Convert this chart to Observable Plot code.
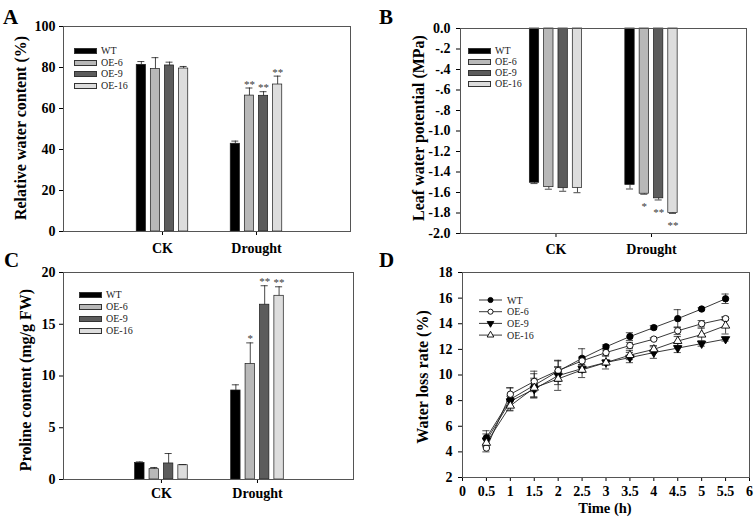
<!DOCTYPE html>
<html><head><meta charset="utf-8">
<script src="https://cdn.jsdelivr.net/npm/d3@7"></script>
<script src="https://cdn.jsdelivr.net/npm/@observablehq/plot@0.6"></script>
<style>
html,body{margin:0;padding:0;background:#fff;}
#wrap{position:relative;width:755px;height:520px;overflow:hidden;font-family:'Liberation Serif','Times New Roman',serif;background:#fff;}
.panel{position:absolute;}
.letter{position:absolute;font-weight:bold;font-size:21px;line-height:1;color:#000;}
.ytitle{position:absolute;font-weight:bold;font-size:16px;white-space:nowrap;transform:translate(-50%,-50%) rotate(-90deg);color:#000;}
.xtitle{position:absolute;font-weight:bold;font-size:14.5px;white-space:nowrap;transform:translate(-50%,-50%);color:#000;}
.leg{position:absolute;font-size:10px;color:#222;white-space:nowrap;line-height:1;transform:translateY(-50%);}
.sw{position:absolute;box-sizing:border-box;border:1px solid #333;}
</style></head><body><div id="wrap"></div>
<script>
// ---------- data ----------
const conditions = ["CK", "Drought"];
const lines = ["WT", "OE-6", "OE-9", "OE-16"];
const barFills = ["#000000", "#b8b8b8", "#5c5c5c", "#dddddd"];

// A: relative water content (%)
const rwcCK = [81.3, 79.3, 81.0, 79.5];
const rwcCKErr = [1.6, 5.5, 1.6, 1.0];
const rwcCKSig = ["", "", "", ""];
const rwcDrought = [42.8, 66.3, 66.2, 71.7];
const rwcDroughtErr = [1.3, 3.7, 2.0, 4.1];
const rwcDroughtSig = ["", "**", "**", "**"];
const rwcTicks = [0, 20, 40, 60, 80, 100];

// B: leaf water potential (MPa)
const lwpCK = [-1.505, -1.548, -1.558, -1.557];
const lwpCKErr = [0.008, 0.02, 0.03, 0.045];
const lwpCKSig = ["", "", "", ""];
const lwpDrought = [-1.526, -1.612, -1.657, -1.80];
const lwpDroughtErr = [0.04, 0.005, 0.016, 0.004];
const lwpDroughtSig = ["", "*", "**", "**"];
const lwpTicks = [0, -0.2, -0.4, -0.6, -0.8, -1.0, -1.2, -1.4, -1.6, -1.8, -2.0];
const lwpTickLabels = ["0.0", "-.2", "-.4", "-.6", "-.8", "-1.0", "-1.2", "-1.4", "-1.6", "-1.8", "-2.0"];

// C: proline content (mg/g FW)
const proCK = [1.6, 1.0, 1.55, 1.38];
const proCKErr = [0.1, 0.16, 0.96, 0.06];
const proCKSig = ["", "", "", ""];
const proDrought = [8.6, 11.17, 16.89, 17.75];
const proDroughtErr = [0.55, 2.03, 1.83, 0.87];
const proDroughtSig = ["", "*", "**", "**"];
const proTicks = [0, 5, 10, 15, 20];

// D: water loss rate (%)
const hours = [0.5, 1, 1.5, 2, 2.5, 3, 3.5, 4, 4.5, 5, 5.5];
const wlWT = [5.1, 8.1, 9.2, 10.3, 11.3, 12.2, 13.0, 13.7, 14.4, 15.15, 15.95];
const wlWTErr = [0.55, 0.9, 0.9, 0.8, 0.75, 0.15, 0.3, 0.15, 0.7, 0.1, 0.37];
const wlOE6 = [4.3, 8.5, 9.5, 10.35, 11.1, 11.75, 12.3, 12.8, 13.45, 14.0, 14.4];
const wlOE6Err = [0.3, 0.5, 0.8, 0.8, 0.3, 0.2, 0.25, 0.1, 0.3, 0.25, 0.15];
const wlOE9 = [4.9, 7.95, 8.9, 9.95, 10.5, 10.98, 11.36, 11.75, 12.1, 12.45, 12.8];
const wlOE9Err = [0.5, 0.4, 0.7, 0.7, 0.3, 0.2, 0.4, 0.45, 0.35, 0.2, 0.15];
const wlOE16 = [4.7, 7.6, 9.0, 9.7, 10.4, 10.97, 11.55, 12.0, 12.65, 13.15, 13.85];
const wlOE16Err = [0.3, 0.35, 0.75, 0.9, 0.6, 0.5, 0.35, 0.3, 0.35, 0.5, 0.65];
const timeTicks = [0, 0.5, 1, 1.5, 2, 2.5, 3, 3.5, 4, 4.5, 5, 5.5, 6];
const wlrTicks = [2, 4, 6, 8, 10, 12, 14, 16, 18];

// ---------- layout helpers ----------
const wrap = document.getElementById("wrap");
const FONT = "'Liberation Serif','Times New Roman',serif";
const BAR_STEP = 0.15, BAR_W = 0.098, CAP = 0.037;

function place(node, left, top) {
  const d = document.createElement("div");
  d.className = "panel";
  d.style.left = left + "px"; d.style.top = top + "px";
  d.appendChild(node);
  wrap.appendChild(d);
}
function addText(cls, text, left, top, extra) {
  const d = document.createElement("div");
  d.className = cls; d.textContent = text;
  d.style.left = left + "px"; d.style.top = top + "px";
  if (extra) Object.assign(d.style, extra);
  wrap.appendChild(d);
}

function barPanel(cfg) {
  const groups = cfg.groups;
  const rows = [];
  groups.forEach((g, gi) => g.values.forEach((v, si) => {
    const e = g.errors[si];
    rows.push({cond: conditions[gi], line: lines[si], v, e,
      pos: gi + (si - 1.5) * BAR_STEP,
      end: cfg.down ? v - e : v + e, sig: g.sig[si]});
  }));
  return Plot.plot({
    width: cfg.width, height: cfg.height,
    marginLeft: cfg.m[0], marginRight: cfg.m[1], marginTop: cfg.m[2], marginBottom: cfg.m[3],
    style: {fontFamily: FONT, fontSize: "14px", fontWeight: "bold", background: "white", color: "#000"},
    x: {type: "linear", domain: cfg.xDomain, ticks: [0, 1], tickFormat: i => conditions[i], tickSize: 4, tickPadding: cfg.xPad, label: null},
    y: {domain: cfg.yDomain, ticks: cfg.yTicks, tickFormat: cfg.yFormat, tickSize: 4, tickPadding: cfg.yPad, label: null},
    color: {domain: lines, range: barFills},
    marks: [
      Plot.rect(rows, {x1: d => d.pos - BAR_W / 2, x2: d => d.pos + BAR_W / 2, y1: 0, y2: "v", fill: "line", stroke: "#1a1a1a", strokeWidth: 0.7}),
      Plot.ruleX(rows, {x: "pos", y1: "v", y2: "end", stroke: "#1a1a1a", strokeWidth: 0.8}),
      Plot.ruleY(rows, {y: "end", x1: d => d.pos - CAP, x2: d => d.pos + CAP, stroke: "#1a1a1a", strokeWidth: 0.8}),
      Plot.text(rows.filter(d => d.sig), {x: "pos", y: "end", text: "sig", dy: cfg.down ? 12 : -4, fontSize: 11, fontWeight: "normal", fill: "#3a3a3a"}),
      Plot.frame({stroke: "#555", strokeWidth: 1})
    ]
  });
}

function barLegend(left, tops) {
  lines.forEach((name, i) => {
    const s = document.createElement("div");
    s.className = "sw";
    Object.assign(s.style, {left: left + "px", top: (tops[i] - 3) + "px", width: "23px", height: "6px", background: barFills[i]});
    wrap.appendChild(s);
    addText("leg", name, left + 27, tops[i]);
  });
}

// ---------- Panel A ----------
place(barPanel({
  width: 375, height: 260, m: [63, 25, 26, 29],
  xDomain: [-1.053, 2.0], xPad: 8, yPad: 4,
  yDomain: [0, 100], yTicks: rwcTicks, yFormat: d => String(d),
  groups: [{values: rwcCK, errors: rwcCKErr, sig: rwcCKSig}, {values: rwcDrought, errors: rwcDroughtErr, sig: rwcDroughtSig}]
}), 0, 0);
barLegend(74, [51, 62.5, 74, 85.5]);
addText("ytitle", "Relative water content (%)", 21, 128);
addText("letter", "A", 3, 7);

// ---------- Panel B ----------
place(barPanel({
  width: 380, height: 260, m: [85, 9, 28, 27],
  xDomain: [-1.0, 1.995], xPad: 7, yPad: 6, down: true,
  yDomain: [-2, 0], yTicks: lwpTicks, yFormat: (d, i) => lwpTickLabels[lwpTicks.findIndex(t => Math.abs(t - d) < 1e-9)],
  groups: [{values: lwpCK, errors: lwpCKErr, sig: lwpCKSig}, {values: lwpDrought, errors: lwpDroughtErr, sig: lwpDroughtSig}]
}), 375, 0);
barLegend(468, [51, 62, 73, 84]);
addText("ytitle", "Leaf water potential (MPa)", 419, 128);
addText("letter", "B", 379, 7);

// ---------- Panel C ----------
place(barPanel({
  width: 375, height: 260, m: [63, 22, 12, 41],
  xDomain: [-1.02, 2.0], xPad: 5, yPad: 4,
  yDomain: [0, 20], yTicks: proTicks, yFormat: d => String(d),
  groups: [{values: proCK, errors: proCKErr, sig: proCKSig}, {values: proDrought, errors: proDroughtErr, sig: proDroughtSig}]
}), 0, 260);
barLegend(79, [295, 307, 319, 331]);
addText("ytitle", "Proline content (mg/g FW)", 26, 380);
addText("letter", "C", 4, 250);

// ---------- Panel D ----------
const sqrt3 = Math.sqrt(3);
const triangleDown = {
  draw(context, size) {
    const y = -Math.sqrt(size / (sqrt3 * 3));
    context.moveTo(0, -y * 2);
    context.lineTo(-sqrt3 * y, y);
    context.lineTo(sqrt3 * y, y);
    context.closePath();
  }
};
const dSeries = [
  {name: "WT", values: wlWT, errors: wlWTErr, symbol: "circle", fill: "#000", r: 3.2},
  {name: "OE-6", values: wlOE6, errors: wlOE6Err, symbol: "circle", fill: "#fff", r: 3.2},
  {name: "OE-9", values: wlOE9, errors: wlOE9Err, symbol: triangleDown, fill: "#000", r: 3.1},
  {name: "OE-16", values: wlOE16, errors: wlOE16Err, symbol: "triangle", fill: "#fff", r: 3.1}
];
const wlRows = [];
dSeries.forEach(s => hours.forEach((t, i) => wlRows.push({series: s.name, t, v: s.values[i], e: s.errors[i]})));
const CAPD = 0.075;
const dMarks = [
  Plot.ruleX(wlRows, {x: "t", y1: d => d.v - d.e, y2: d => d.v + d.e, stroke: "#222", strokeWidth: 0.8}),
  Plot.ruleY(wlRows, {y: d => d.v + d.e, x1: d => d.t - CAPD, x2: d => d.t + CAPD, stroke: "#222", strokeWidth: 0.8}),
  Plot.ruleY(wlRows, {y: d => d.v - d.e, x1: d => d.t - CAPD, x2: d => d.t + CAPD, stroke: "#222", strokeWidth: 0.8}),
  Plot.line(wlRows, {x: "t", y: "v", z: "series", stroke: "#222", strokeWidth: 0.9})
];
dSeries.forEach(s => {
  dMarks.push(Plot.dot(wlRows.filter(d => d.series === s.name), {x: "t", y: "v", symbol: s.symbol, r: s.r, fill: s.fill, stroke: "#000", strokeWidth: 0.9}));
});
dMarks.push(Plot.frame({stroke: "#555", strokeWidth: 1}));
place(Plot.plot({
  width: 380, height: 260, marginLeft: 87, marginRight: 6, marginTop: 12, marginBottom: 43,
  style: {fontFamily: FONT, fontSize: "14px", fontWeight: "bold", background: "white", color: "#000"},
  x: {domain: [0, 6], ticks: timeTicks, tickFormat: d => String(d), tickSize: 4, tickPadding: 5, label: null},
  y: {domain: [2, 18], ticks: wlrTicks, tickFormat: d => String(d), tickSize: 4, tickPadding: 6, label: null},
  marks: dMarks
}), 375, 260);
addText("ytitle", "Water loss rate (%)", 423, 377);
addText("xtitle", "Time (h)", 605, 508);
addText("letter", "D", 379, 250);

// legend D
const lg = d3.create("svg").attr("width", 70).attr("height", 50);
dSeries.forEach((s, i) => {
  const y = 6 + i * 11.7;
  const r = s.r * 0.8;
  lg.append("line").attr("x1", 3).attr("x2", 26).attr("y1", y).attr("y2", y).attr("stroke", "#222").attr("stroke-width", 0.9);
  lg.append("path").attr("d", d3.symbol(s.symbol === "circle" ? d3.symbolCircle : s.symbol === "triangle" ? d3.symbolTriangle : s.symbol, r * r * Math.PI)())
    .attr("transform", `translate(14.5,${y})`).attr("fill", s.fill).attr("stroke", "#000").attr("stroke-width", 0.9);
  lg.append("text").attr("x", 31).attr("y", y).attr("dy", "0.35em").attr("font-family", FONT).attr("font-size", 10).attr("fill", "#222").text(s.name);
});
place(lg.node(), 476, 294);
</script></body></html>
